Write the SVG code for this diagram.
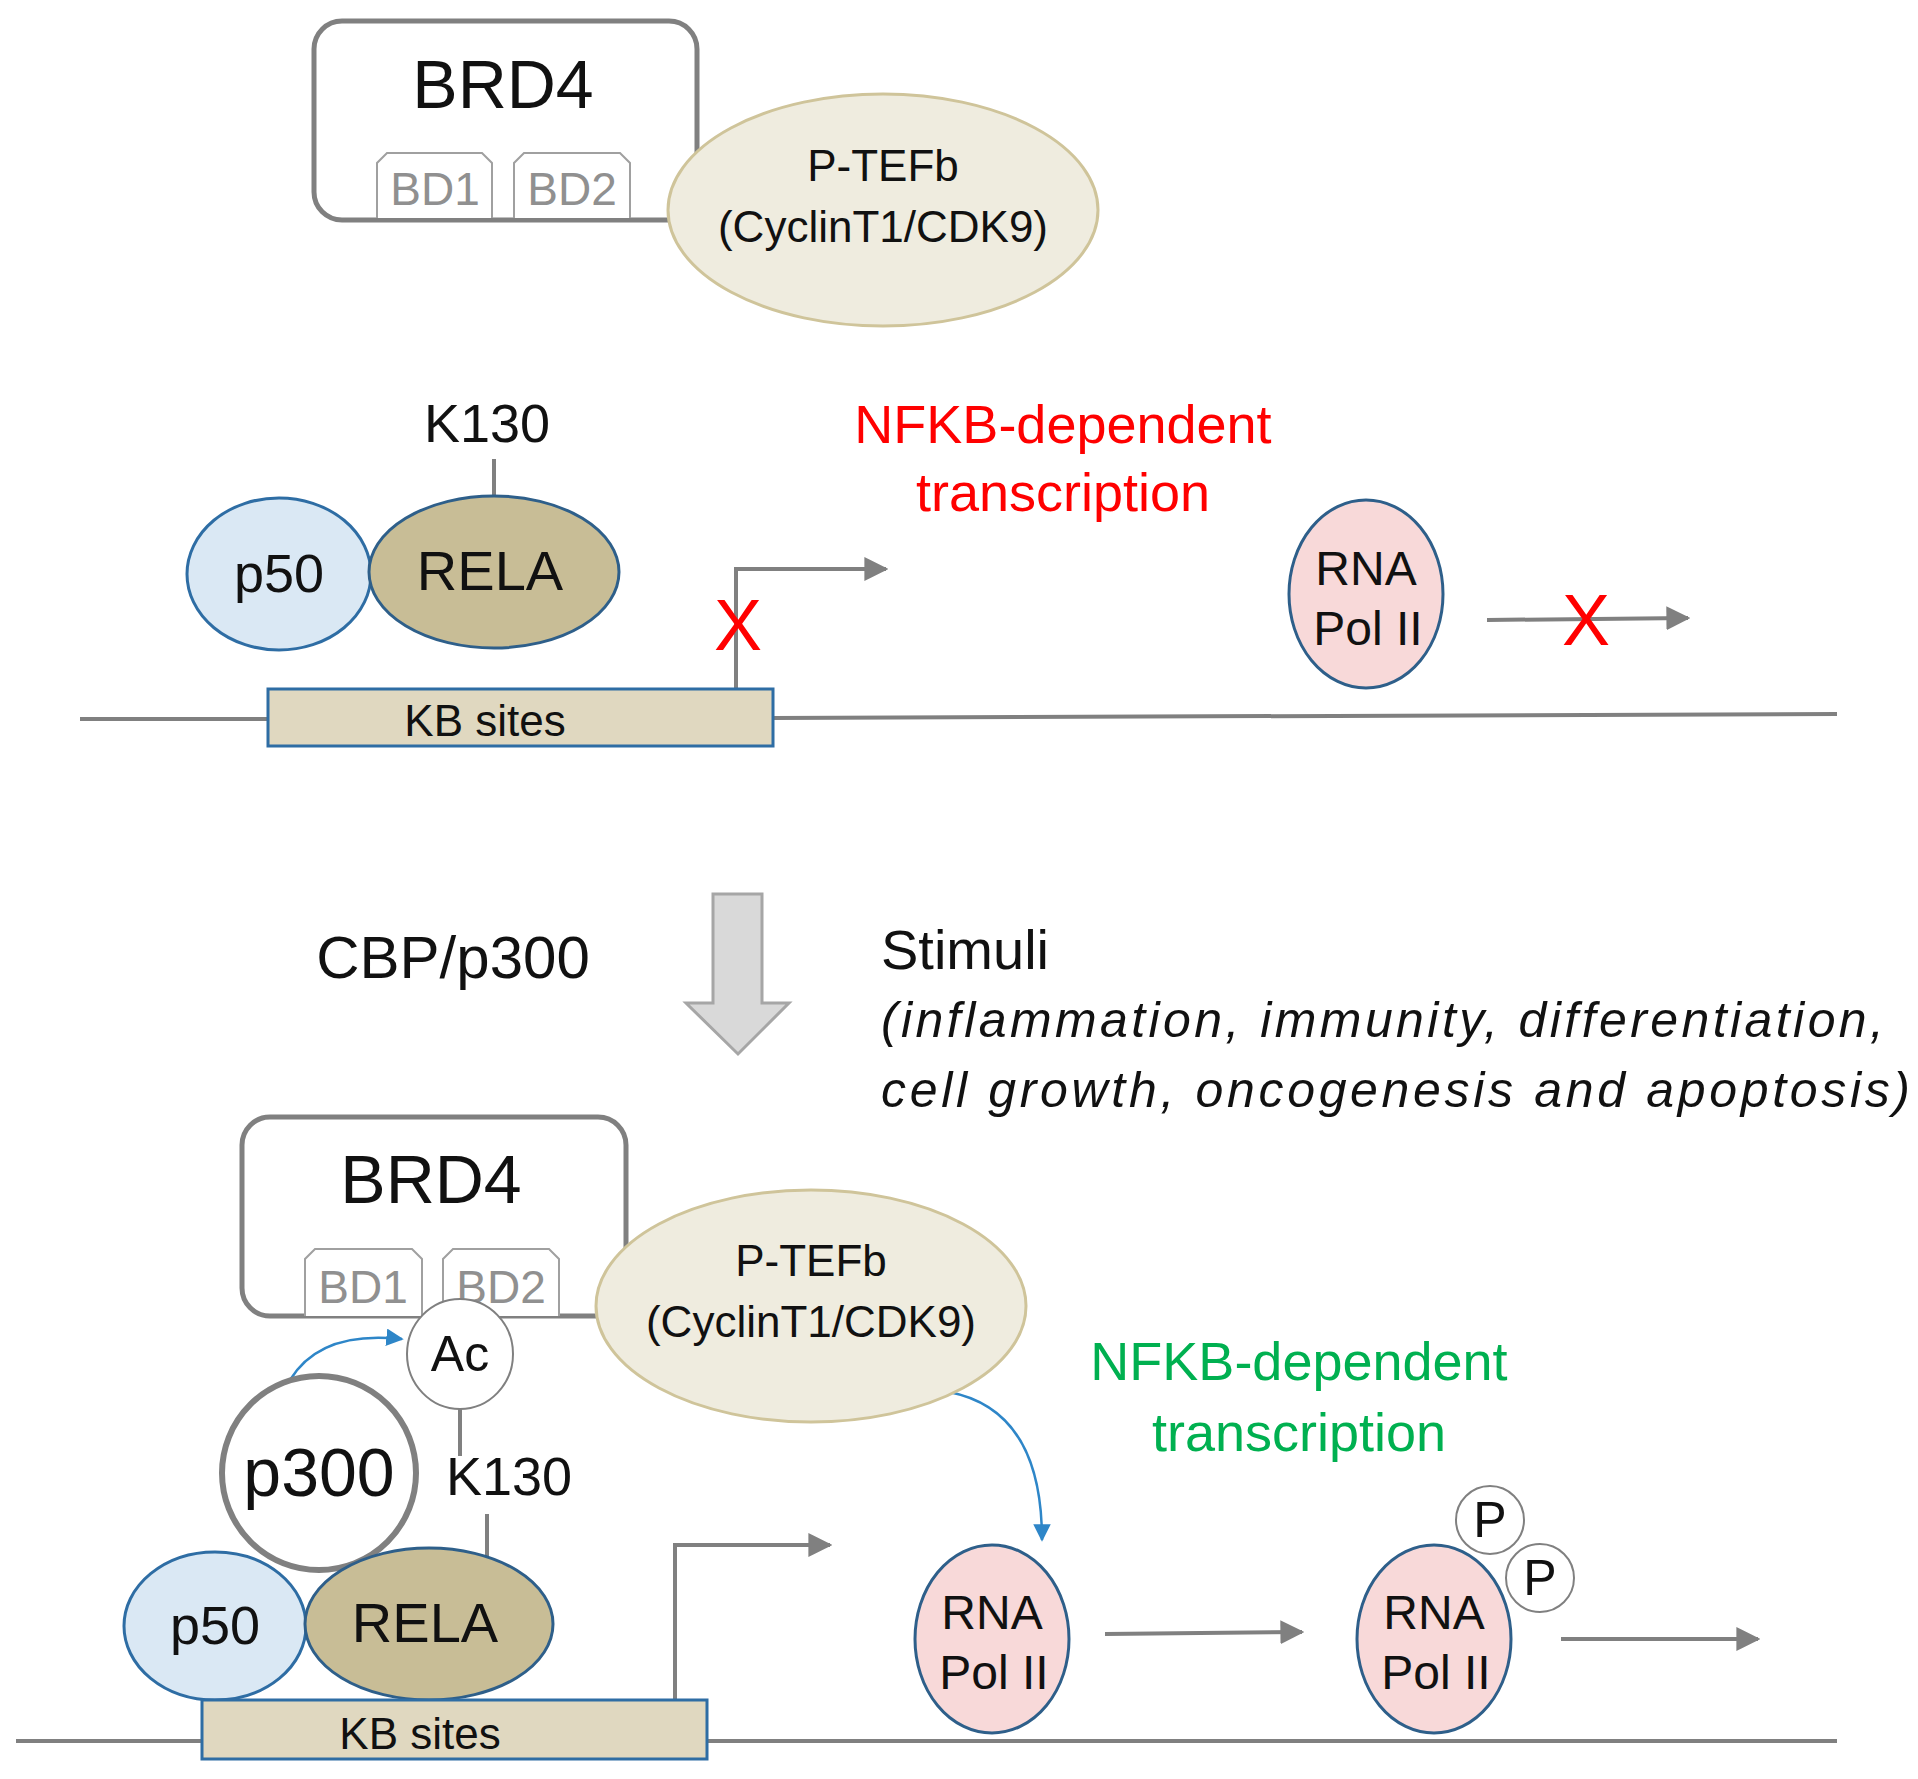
<svg xmlns="http://www.w3.org/2000/svg" width="1918" height="1779" viewBox="0 0 1918 1779">
<style>
text{font-family:"Liberation Sans",Arial,sans-serif;text-anchor:middle;fill:#111}
.brd{fill:#fff;stroke:#808080;stroke-width:5}
.bd{fill:#fff;stroke:#a0a0a0;stroke-width:2}
.bdt{font-size:46px;fill:#909090}
.pt{fill:#efecdf;stroke:#cfc49a;stroke-width:3}
.p50{fill:#dae8f4;stroke:#2e6da4;stroke-width:3}
.rela{fill:#c8bd96;stroke:#2e5f8a;stroke-width:3}
.kb{fill:#e0d8c0;stroke:#2e6da4;stroke-width:3}
.pol{fill:#f8d9d9;stroke:#2e5f8a;stroke-width:3}
.ln{fill:none;stroke:#808080;stroke-width:4}
.blue{fill:none;stroke:#2e86c8;stroke-width:2.5}
.x{fill:#ff0000;font-size:72px}
</style>
<defs>
<marker id="ah" viewBox="0 0 10 10" refX="9" refY="5" markerWidth="6" markerHeight="6" markerUnits="strokeWidth" orient="auto"><path d="M0 0L10 5L0 10z" fill="#808080"/></marker>
<marker id="bh" viewBox="0 0 10 10" refX="9" refY="5" markerWidth="7" markerHeight="7" markerUnits="strokeWidth" orient="auto"><path d="M0 0L10 5L0 10z" fill="#2e86c8"/></marker>
</defs>
<g id="connectors">
<path class="ln" d="M80 719L268 719M773 718L1837 714"/>
<path class="ln" d="M736 689V569H886" marker-end="url(#ah)"/>
<path class="ln" d="M1487 620L1688 618" marker-end="url(#ah)"/>
<path class="ln" d="M494 459V499"/>
<path class="ln" d="M16 1741H202M707 1741H1837"/>
<path class="ln" d="M675 1700V1545H830" marker-end="url(#ah)"/>
<path class="ln" d="M1105 1634L1302 1632" marker-end="url(#ah)"/>
<path class="ln" d="M1561 1639L1758 1639" marker-end="url(#ah)"/>
<path class="ln" d="M460 1407V1456M487 1514V1557"/>
<path class="blue" d="M290 1380Q320 1330 402 1339" marker-end="url(#bh)"/>
<path class="blue" d="M949 1392Q1042 1410 1042 1540" marker-end="url(#bh)"/>
</g>
<g id="brd4-top"><rect class="brd" x="314" y="21" width="383" height="199" rx="28"/><text x="503" y="108" font-size="68">BRD4</text></g>
<g id="bd1-top"><path class="bd" d="M377 218V163L387 153H482L492 163V218"/><text class="bdt" x="435" y="205">BD1</text></g>
<g id="bd2-top"><path class="bd" d="M514 218V163L524 153H620L630 163V218"/><text class="bdt" x="572" y="205">BD2</text></g>
<g id="ptefb-top"><ellipse class="pt" cx="883" cy="210" rx="215" ry="116"/><text x="883" y="181" font-size="44">P-TEFb</text><text x="883" y="242" font-size="44">(CyclinT1/CDK9)</text></g>
<g id="k130-top"><text x="487" y="442" font-size="54">K130</text></g>
<g id="p50-top"><ellipse class="p50" cx="279" cy="574" rx="92" ry="76"/><text x="279" y="592" font-size="54">p50</text></g>
<g id="rela-top"><ellipse class="rela" cx="494" cy="572" rx="125" ry="76"/><text x="490" y="590" font-size="56">RELA</text></g>
<g id="kb-top"><rect class="kb" x="268" y="689" width="505" height="57"/><text x="485" y="736" font-size="44">KB sites</text></g>
<text class="x" x="738" y="650">X</text>
<g id="nfkb-red"><text x="1063" y="443" font-size="54" style="fill:#ff0000">NFKB-dependent</text><text x="1063" y="511" font-size="54" style="fill:#ff0000">transcription</text></g>
<g id="pol-top"><ellipse class="pol" cx="1366" cy="594" rx="77" ry="94"/><text x="1366" y="585" font-size="48">RNA</text><text x="1368" y="645" font-size="48">Pol II</text></g>
<text class="x" x="1586" y="645">X</text>
<g id="stim-arrow"><path d="M713 894H762V1003H789L738 1054L686 1003H713Z" fill="#d9d9d9" stroke="#a6a6a6" stroke-width="3"/></g>
<text x="453" y="978" font-size="60">CBP/p300</text>
<g id="stimuli"><text x="881" y="969" font-size="56" style="text-anchor:start">Stimuli</text>
<text x="881" y="1037" font-size="50" font-style="italic" style="text-anchor:start" textLength="1003">(inflammation, immunity, differentiation,</text>
<text x="881" y="1107" font-size="50" font-style="italic" style="text-anchor:start" textLength="1029">cell growth, oncogenesis and apoptosis)</text></g>
<g id="brd4-bot"><rect class="brd" x="242" y="1117" width="384" height="199" rx="28"/><text x="431" y="1203" font-size="68">BRD4</text></g>
<g id="bd1-bot"><path class="bd" d="M305 1316V1259L315 1249H412L422 1259V1316"/><text class="bdt" x="363" y="1303">BD1</text></g>
<g id="bd2-bot"><path class="bd" d="M443 1316V1259L453 1249H549L559 1259V1316"/><text class="bdt" x="501" y="1303">BD2</text></g>
<g id="ptefb-bot"><ellipse class="pt" cx="811" cy="1306" rx="215" ry="116"/><text x="811" y="1276" font-size="44">P-TEFb</text><text x="811" y="1337" font-size="44">(CyclinT1/CDK9)</text></g>
<g id="ac"><ellipse cx="460" cy="1354" rx="53" ry="55" fill="#fff" stroke="#808080" stroke-width="2"/><text x="460" y="1371" font-size="50">Ac</text></g>
<g id="p300"><circle cx="319" cy="1473" r="97" fill="#fff" stroke="#808080" stroke-width="6"/><text x="319" y="1496" font-size="68">p300</text></g>
<g id="k130-bot"><text x="509" y="1495" font-size="54">K130</text></g>
<g id="p50-bot"><ellipse class="p50" cx="215" cy="1626" rx="91" ry="74"/><text x="215" y="1644" font-size="54">p50</text></g>
<g id="rela-bot"><ellipse class="rela" cx="429" cy="1624" rx="124" ry="76"/><text x="425" y="1642" font-size="56">RELA</text></g>
<g id="kb-bot"><rect class="kb" x="202" y="1700" width="505" height="59"/><text x="420" y="1749" font-size="44">KB sites</text></g>
<g id="nfkb-green"><text x="1299" y="1380" font-size="54" style="fill:#00b050">NFKB-dependent</text><text x="1299" y="1451" font-size="54" style="fill:#00b050">transcription</text></g>
<g id="pol-mid"><ellipse class="pol" cx="992" cy="1639" rx="77" ry="94"/><text x="992" y="1629" font-size="48">RNA</text><text x="994" y="1689" font-size="48">Pol II</text></g>
<g id="pol-right"><ellipse class="pol" cx="1434" cy="1639" rx="77" ry="94"/><text x="1434" y="1629" font-size="48">RNA</text><text x="1436" y="1689" font-size="48">Pol II</text></g>
<g id="p1"><circle cx="1490" cy="1520" r="34" fill="#fff" stroke="#808080" stroke-width="2"/><text x="1490" y="1537" font-size="50">P</text></g>
<g id="p2"><circle cx="1540" cy="1578" r="34" fill="#fff" stroke="#808080" stroke-width="2"/><text x="1540" y="1595" font-size="50">P</text></g>
</svg>
